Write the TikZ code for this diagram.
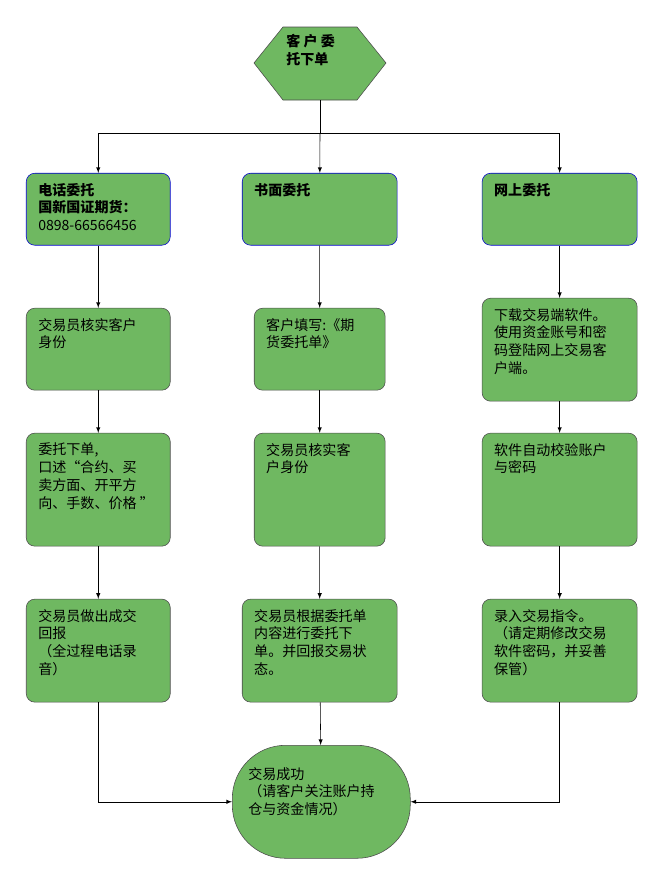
\documentclass[tikz,border=0pt]{standalone}
\usepackage{fontspec}
\setmainfont{Noto Sans CJK SC}
\usetikzlibrary{arrows,positioning}
\definecolor{boxgreen}{HTML}{6FB861}
\tikzset{%
	box/.style     = {draw=black!70, fill=boxgreen, rounded corners=6pt, inner sep=0pt},
	topbox/.style  = {box, draw=blue!80!black},
	boxtext/.style = {anchor=north west, align=left, inner sep=0pt, font=\fontsize{10}{12.6}\selectfont},
	arrow/.style   = {-latex, black},
}
% name, left x, top y, width, height, style, text
\newcommand\flowbox[7]{%
	\node [#6, minimum width=#4*0.025cm, minimum height=#5*0.025cm, anchor=north west] (#1) at (#2*0.025,-#3*0.025) {};
	\node [boxtext] (#1t) at ($(#1.north west)+(0.3,-0.25)$) {#7};
}
\usetikzlibrary{calc}
\begin{document}
\begin{tikzpicture}
	\useasboundingbox (0,0) rectangle (16.5,-22.3);
	% top hexagon
	\draw[fill=boxgreen, draw=black!70] (6.35,-1.575) -- (7.075,-0.675) -- (8.925,-0.675) -- (9.65,-1.575) -- (8.925,-2.5) -- (7.075,-2.5) -- cycle;
	\node [boxtext, font=\bfseries\fontsize{10}{12.6}\selectfont] (startt) at (7.15,-0.85) {客 户 委\\托下单};
	\coordinate (start) at (8,-2.5);
	\coordinate (split) at (8,-3.325);

	\flowbox{tel}{26}{173}{144}{72}{topbox}{\textbf{电话委托}\\\textbf{国新国证期货：}\\0898-66566456}
	\flowbox{paper}{242}{173}{155}{72}{topbox}{\textbf{书面委托}}
	\flowbox{web}{482}{173}{155}{72}{topbox}{\textbf{网上委托}}

	\flowbox{telb}{26}{308}{144}{82}{box}{交易员核实客户\\身份}
	\flowbox{paperb}{254}{308}{131}{82}{box}{客户填写:《期\\货委托单》}
	\flowbox{webb}{482}{298}{155}{103}{box}{下载交易端软件。\\使用资金账号和密\\码登陆网上交易客\\户端。}

	\flowbox{telc}{26}{433}{144}{113}{box}{委托下单,\\口述“合约、买\\卖方面、开平方\\向、手数、价格 ”}
	\flowbox{paperc}{254}{433}{131}{113}{box}{交易员核实客\\户身份}
	\flowbox{webc}{482}{433}{155}{113}{box}{软件自动校验账户\\与密码}

	\flowbox{teld}{26}{599}{144}{103}{box}{交易员做出成交\\回报\\（全过程电话录\\音）}
	\flowbox{paperd}{242}{599}{155}{103}{box}{交易员根据委托单\\内容进行委托下\\单。并回报交易状\\态。}
	\flowbox{webd}{482}{599}{155}{103}{box}{录入交易指令。\\（请定期修改交易\\软件密码，并妥善\\保管）}

	\node [box, rounded corners=38pt, minimum width=4.45cm, minimum height=2.825cm, anchor=north west] (done) at (5.8,-18.625) {};
	\node [boxtext] (donet) at ($(done.north west)+(0.4,-0.55)$) {交易成功\\（请客户关注账户持\\仓与资金情况）};

	\draw (start) -- (split);
	\draw[arrow] (split) -| (tel);
	\draw[arrow] (split) -- (paper);
	\draw[arrow] (split) -| (web);
	\foreach \c in {tel,paper,web}{
		\draw[arrow] (\c) -- (\c b);
		\draw[arrow] (\c b) -- (\c c);
		\draw[arrow] (\c c) -- (\c d);
	}
	\draw[arrow] (teld) |- (done.west);
	\draw[arrow] (paperd) -- (done);
	\draw[arrow] (webd) |- (done.east);
\end{tikzpicture}
\end{document}
